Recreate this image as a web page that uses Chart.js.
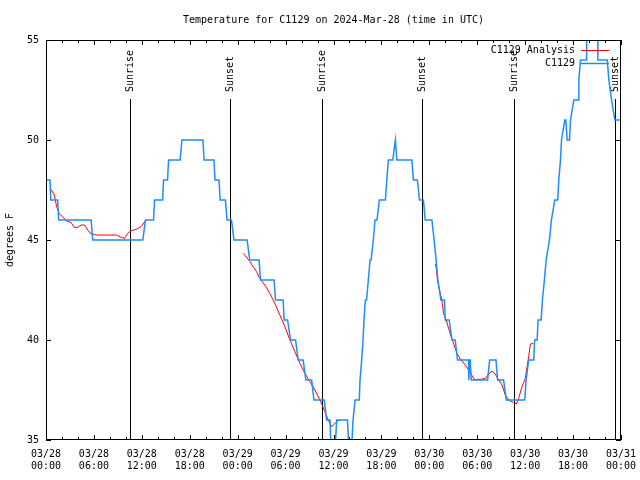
<!DOCTYPE html>
<html>
<head>
<meta charset="utf-8">
<script src="https://cdn.jsdelivr.net/npm/chart.js@4.4.1/dist/chart.umd.min.js"></script>
<style>
  html, body { margin: 0; padding: 0; background: #fff; }
</style>
</head>
<body>
<canvas id="chart" width="640" height="480"></canvas>
<script>
// hours since 03/28 00:00 UTC, temperature in F (station obs)
const obsHours = [0.00, 0.50, 0.60, 1.46, 1.58, 5.65, 5.85, 12.12, 12.46, 13.47, 13.59, 14.60,
  14.72, 15.22, 15.35, 16.79, 17.02, 19.65, 19.80, 21.03, 21.16, 21.66, 21.81, 22.46,
  22.67, 23.22, 23.54, 25.18, 25.52, 26.68, 26.86, 28.56, 28.74, 29.69, 29.82, 30.25,
  30.62, 31.25, 31.58, 32.20, 32.54, 33.26, 33.55, 34.84, 35.14, 35.56, 35.74, 36.12,
  36.40, 37.75, 38.00, 38.19, 38.45, 38.55, 38.70, 39.23, 39.32, 39.53, 39.70, 39.82,
  39.99, 40.14, 40.36, 40.58, 40.70, 40.99, 41.20, 41.45, 41.74, 42.50, 42.67, 42.87,
  43.42, 43.75, 43.93, 45.81, 46.01, 46.51, 46.76, 47.26, 47.48, 48.32, 48.60, 48.85,
  49.07, 49.45, 49.90, 49.99, 50.49, 50.83, 51.24, 51.53, 52.91, 52.94, 53.06, 53.12,
  53.25, 55.30, 55.55, 56.35, 56.55, 57.30, 57.64, 59.94, 60.12, 60.44, 61.07, 61.19,
  61.50, 61.62, 62.00, 62.16, 62.41, 62.63, 63.04, 63.29, 63.71, 64.08, 64.21, 64.42,
  64.55, 64.96, 65.09, 65.26, 65.55, 65.68, 66.09, 66.64, 66.72, 66.93, 67.68, 67.70,
  69.08, 69.10, 70.28, 70.48, 70.82, 71.23, 72.00];
const obsTemps = [48, 48, 47, 47, 46, 46, 45, 45, 46, 46, 47, 47,
  48, 48, 49, 49, 50, 50, 49, 49, 48, 48, 47, 47,
  46, 46, 45, 45, 44, 44, 43, 43, 42, 42, 41, 41,
  40, 40, 39, 39, 38, 38, 37, 37, 36, 36, 34, 34,
  36, 36, 34, 34, 36, 36, 37, 37, 38, 39, 40, 41,
  42, 42, 43, 44, 44, 45, 46, 46, 47, 47, 48, 49,
  49, 50, 49, 49, 48, 48, 47, 47, 46, 46, 45, 44,
  43, 42, 42, 41, 41, 40, 40, 39, 39, 38, 39, 39,
  38, 38, 39, 39, 38, 38, 37, 37, 38, 39, 39, 40,
  40, 41, 41, 42, 43, 44, 45, 46, 47, 47, 48, 49,
  50, 51, 51, 50, 50, 51, 52, 52, 53, 54, 54, 56,
  56, 54, 54, 53, 52, 51, 51];

// analysis (null = gap)
const anaHours = [0.63, 1.04, 1.33, 1.67, 2.08, 2.51, 3.14, 3.55, 3.97, 4.39, 4.81, 5.22,
  5.65, 6.28, 8.79, 9.41, 9.83, 10.24, 10.67, 11.30, 11.92, 12.46,
  18.0,
  24.67, 25.01, 25.52, 25.93, 26.36, 26.77, 27.40, 28.03, 28.65, 29.28, 29.91, 30.54,
  31.16, 31.79, 32.42, 33.04, 33.67, 34.30, 34.93, 35.34, 35.77, 36.18, 36.60, 36.90,
  42.0,
  48.73, 48.86, 49.02, 49.27, 49.57, 49.77, 50.11, 50.53, 50.95, 51.46, 51.87, 52.50,
  53.13, 53.63, 54.38, 55.01, 55.42, 55.85, 56.26, 56.67, 57.10, 57.51, 57.93, 58.55,
  58.89, 59.18, 59.61, 60.02, 60.24, 60.44, 60.65, 60.99];
const anaTemps = [47.53, 47.25, 46.67, 46.30, 46.17, 45.97, 45.87, 45.63, 45.63, 45.75, 45.75, 45.50,
  45.30, 45.25, 45.25, 45.13, 45.08, 45.33, 45.47, 45.53, 45.67, 45.97,
  null,
  44.33, 44.20, 43.92, 43.67, 43.42, 43.08, 42.75, 42.33, 41.83, 41.25, 40.67, 40.00,
  39.42, 38.83, 38.33, 37.92, 37.50, 37.00, 36.42, 36.00, 35.67, 35.83, 35.97, 36.00,
  null,
  43.80, 43.63, 43.00, 42.50, 42.00, 41.33, 41.00, 40.42, 39.92, 39.33, 39.05, 38.75,
  38.37, 38.03, 38.03, 38.08, 38.30, 38.45, 38.30, 38.00, 37.75, 37.25, 37.00, 36.87,
  36.80, 37.08, 37.67, 38.08, 38.67, 39.17, 39.80, 39.83];

const sunHours = [10.58, 23.05, 34.59, 47.12, 58.66, 71.24];
const sunLabels = ['Sunrise', 'Sunset', 'Sunrise', 'Sunset', 'Sunrise', 'Sunset'];

const tickDates = ['03/28', '03/29', '03/30', '03/31'];
const tickTimes = ['00:00', '06:00', '12:00', '18:00'];

const FONT = 'DejaVu Sans Mono';
const toXY = (xs, ys) => xs.map((h, i) => ({ x: h, y: ys[i] }));

// rotated sunrise / sunset markers
const sunPlugin = {
  id: 'sun',
  beforeDatasetsDraw(chart) {
    const ctx = chart.ctx, xs = chart.scales.x, area = chart.chartArea;
    ctx.save();
    ctx.strokeStyle = '#000';
    ctx.lineWidth = 1;
    ctx.fillStyle = '#000';
    ctx.font = '10px "' + FONT + '"';
    sunHours.forEach((h, i) => {
      const px = Math.round(xs.getPixelForValue(h)) + 0.5;
      ctx.beginPath();
      ctx.moveTo(px, 99);
      ctx.lineTo(px, area.bottom);
      ctx.stroke();
      ctx.save();
      ctx.translate(px, 92);
      ctx.rotate(-Math.PI / 2);
      ctx.textAlign = 'left';
      ctx.textBaseline = 'middle';
      ctx.fillText(sunLabels[i], 0, 0);
      ctx.restore();
    });
    ctx.restore();
  }
};

// gnuplot style frame with inward ticks, plus the key
const framePlugin = {
  id: 'frame',
  afterDatasetsDraw(chart) {
    const ctx = chart.ctx, a = chart.chartArea;
    const xs = chart.scales.x, ys = chart.scales.y;
    ctx.save();
    ctx.strokeStyle = '#000';
    ctx.lineWidth = 1;
    ctx.strokeRect(a.left + 0.5, a.top + 0.5, a.right - a.left - 1, a.bottom - a.top - 1);
    ctx.beginPath();
    xs.ticks.forEach(t => {
      const px = Math.round(xs.getPixelForValue(t.value)) + 0.5;
      const len = t.value % 6 === 0 ? 5 : 3;
      ctx.moveTo(px, a.bottom); ctx.lineTo(px, a.bottom - len);
      ctx.moveTo(px, a.top); ctx.lineTo(px, a.top + len);
    });
    ys.ticks.forEach(t => {
      const py = Math.round(ys.getPixelForValue(t.value)) + 0.5;
      ctx.moveTo(a.left, py); ctx.lineTo(a.left + 5, py);
      ctx.moveTo(a.right, py); ctx.lineTo(a.right - 5, py);
    });
    ctx.stroke();

    // key, top right
    ctx.font = '10px "' + FONT + '"';
    ctx.fillStyle = '#000';
    ctx.textAlign = 'right';
    ctx.textBaseline = 'middle';
    const keyOrder = [1, 0];
    keyOrder.forEach((di, row) => {
      const ds = chart.data.datasets[di];
      const y = 50 + row * 13;
      ctx.fillText(ds.label, 575, y);
      ctx.strokeStyle = ds.borderColor;
      ctx.lineWidth = ds.borderWidth;
      ctx.beginPath();
      ctx.moveTo(581, y + 0.5);
      ctx.lineTo(609, y + 0.5);
      ctx.stroke();
    });
    ctx.restore();
  }
};

new Chart(document.getElementById('chart'), {
  type: 'line',
  data: {
    datasets: [
      {
        label: 'C1129',
        data: toXY(obsHours, obsTemps),
        borderColor: '#1e8cff',
        borderWidth: 1.5,
        pointRadius: 0,
        tension: 0
      },
      {
        label: 'C1129 Analysis',
        data: toXY(anaHours, anaTemps),
        borderColor: '#ff0000',
        borderWidth: 1,
        pointRadius: 0,
        spanGaps: false,
        tension: 0
      }
    ]
  },
  options: {
    responsive: false,
    animation: false,
    layout: { padding: { left: 0, right: 19, top: 0, bottom: 0 } },
    plugins: {
      legend: { display: false },
      tooltip: { enabled: false },
      title: {
        display: true,
        fullSize: false,
        text: 'Temperature for C1129 on 2024-Mar-28 (time in UTC)',
        color: '#000',
        font: { family: FONT, size: 10, weight: 'normal' },
        padding: { top: 14, bottom: 14 }
      }
    },
    scales: {
      x: {
        type: 'linear',
        min: 0,
        max: 72,
        grid: { display: false, drawTicks: false },
        border: { display: false },
        ticks: {
          stepSize: 2,
          autoSkip: false,
          maxRotation: 0,
          padding: 8,
          color: '#000',
          font: { family: FONT, size: 10 },
          callback: function(v) {
            if (v % 6 !== 0) return '';
            return [tickDates[Math.floor(v / 24)], tickTimes[(v % 24) / 6]];
          }
        },
        afterFit: s => { s.height = 40; s.paddingLeft = 0; s.paddingRight = 0; }
      },
      y: {
        min: 35,
        max: 55,
        grid: { display: false, drawTicks: false },
        border: { display: false },
        ticks: {
          stepSize: 5,
          padding: 7,
          color: '#000',
          font: { family: FONT, size: 10 }
        },
        title: {
          display: true,
          text: 'degrees F',
          color: '#000',
          font: { family: FONT, size: 10 },
          padding: { top: 4, bottom: 0 }
        },
        afterFit: s => { s.width = 46; s.paddingTop = 0; s.paddingBottom = 0; }
      }
    }
  },
  plugins: [sunPlugin, framePlugin]
});
</script>
</body>
</html>
